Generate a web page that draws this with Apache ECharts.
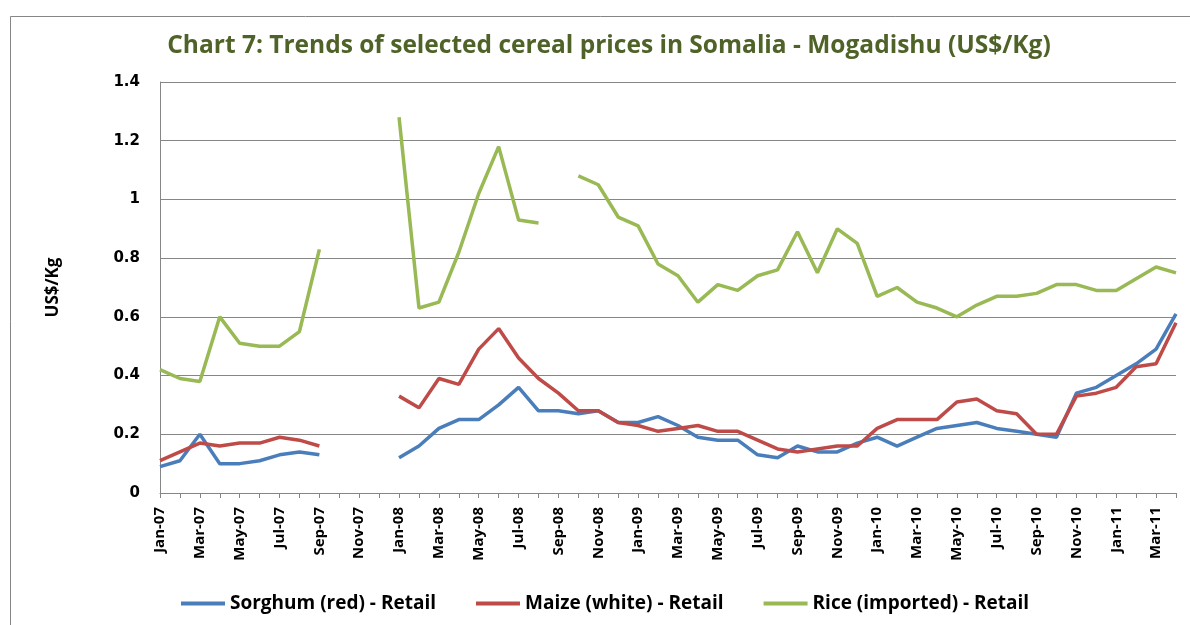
<!DOCTYPE html>
<html>
<head>
<meta charset="utf-8">
<script src="https://cdn.jsdelivr.net/npm/echarts@6/dist/echarts.min.js"></script>
<style>
  html, body { margin: 0; padding: 0; background: #fff; }
  #main { width: 1190px; height: 625px; }
</style>
</head>
<body>
<div id="main"></div>
<script>
var months = [
  'Jan-07','Feb-07','Mar-07','Apr-07','May-07','Jun-07','Jul-07','Aug-07','Sep-07','Oct-07','Nov-07','Dec-07',
  'Jan-08','Feb-08','Mar-08','Apr-08','May-08','Jun-08','Jul-08','Aug-08','Sep-08','Oct-08','Nov-08','Dec-08',
  'Jan-09','Feb-09','Mar-09','Apr-09','May-09','Jun-09','Jul-09','Aug-09','Sep-09','Oct-09','Nov-09','Dec-09',
  'Jan-10','Feb-10','Mar-10','Apr-10','May-10','Jun-10','Jul-10','Aug-10','Sep-10','Oct-10','Nov-10','Dec-10',
  'Jan-11','Feb-11','Mar-11','Apr-11'
];

// sorghum (red) - retail
var sorghum = [
  0.09, 0.11, 0.20, 0.10, 0.10, 0.11, 0.13, 0.14, 0.13, null, null, null,
  0.12, 0.16, 0.22, 0.25, 0.25, 0.30, 0.36, 0.28, 0.28, 0.27, 0.28, 0.24,
  0.24, 0.26, 0.23, 0.19, 0.18, 0.18, 0.13, 0.12, 0.16, 0.14, 0.14, 0.17,
  0.19, 0.16, 0.19, 0.22, 0.23, 0.24, 0.22, 0.21, 0.20, 0.19, 0.34, 0.36,
  0.40, 0.44, 0.49, 0.61
];

// maize (white) - retail
var maize = [
  0.11, 0.14, 0.17, 0.16, 0.17, 0.17, 0.19, 0.18, 0.16, null, null, null,
  0.33, 0.29, 0.39, 0.37, 0.49, 0.56, 0.46, 0.39, 0.34, 0.28, 0.28, 0.24,
  0.23, 0.21, 0.22, 0.23, 0.21, 0.21, 0.18, 0.15, 0.14, 0.15, 0.16, 0.16,
  0.22, 0.25, 0.25, 0.25, 0.31, 0.32, 0.28, 0.27, 0.20, 0.20, 0.33, 0.34,
  0.36, 0.43, 0.44, 0.58
];

// rice (imported) - retail
var rice = [
  0.42, 0.39, 0.38, 0.60, 0.51, 0.50, 0.50, 0.55, 0.83, null, null, null,
  1.28, 0.63, 0.65, 0.82, 1.02, 1.18, 0.93, 0.92, null, 1.08, 1.05, 0.94,
  0.91, 0.78, 0.74, 0.65, 0.71, 0.69, 0.74, 0.76, 0.89, 0.75, 0.90, 0.85,
  0.67, 0.70, 0.65, 0.63, 0.60, 0.64, 0.67, 0.67, 0.68, 0.71, 0.71, 0.69,
  0.69, 0.73, 0.77, 0.75
];

var chart = echarts.init(document.getElementById('main'));

function line(name, data, color) {
  return {
    name: name,
    type: 'line',
    data: data,
    symbol: 'none',
    connectNulls: false,
    lineStyle: { width: 3.5, color: color },
    itemStyle: { color: color }
  };
}

var option = {
  backgroundColor: '#fff',
  animation: false,
  title: {
    text: 'Chart 7: Trends of selected cereal prices in Somalia - Mogadishu (US$/Kg)',
    left: 604,
    top: 29,
    textAlign: 'center',
    textStyle: {
      fontFamily: 'Open Sans',
      fontWeight: 'bold',
      fontSize: 24.5,
      color: '#4F6228'
    }
  },
  graphic: [{
    type: 'rect',
    shape: { x: 10.5, y: 16.5, width: 1190, height: 620 },
    style: { fill: 'none', stroke: '#868686', lineWidth: 1 },
    silent: true
  }],
  legend: {
    bottom: 7,
    left: 176,
    itemGap: 40,
    itemWidth: 44,
    itemHeight: 4,
    icon: 'rect',
    textStyle: {
      fontFamily: 'Open Sans',
      fontWeight: 'bold',
      fontSize: 19,
      color: '#000'
    },
    data: ['Sorghum (red) - Retail', 'Maize (white) - Retail', 'Rice (imported) - Retail']
  },
  grid: {
    left: 160,
    right: 14,
    top: 82,
    bottom: 132,
    containLabel: false
  },
  xAxis: {
    type: 'category',
    data: months,
    boundaryGap: false,
    axisLine: { lineStyle: { color: '#868686', width: 1 } },
    axisTick: { show: true, interval: 0, length: 5, lineStyle: { color: '#868686' } },
    axisLabel: {
      interval: 1,
      rotate: 90,
      margin: 14,
      fontFamily: 'Open Sans',
      fontWeight: 'bold',
      fontSize: 15,
      color: '#000'
    }
  },
  yAxis: {
    type: 'value',
    min: 0,
    max: 1.4,
    interval: 0.2,
    name: 'US$/Kg',
    nameLocation: 'middle',
    nameGap: 98,
    nameRotate: 90,
    nameTextStyle: {
      fontFamily: 'Open Sans',
      fontWeight: 'bold',
      fontSize: 17,
      color: '#000'
    },
    axisLine: { show: true, lineStyle: { color: '#868686' } },
    axisTick: { show: false },
    splitLine: { lineStyle: { color: '#868686', width: 1 } },
    axisLabel: {
      margin: 20,
      fontFamily: 'DejaVu Sans',
      fontWeight: 'bold',
      fontSize: 15,
      color: '#000'
    }
  },
  series: [
    line('Sorghum (red) - Retail', sorghum, '#4A7EBB'),
    line('Maize (white) - Retail', maize, '#BE4B48'),
    line('Rice (imported) - Retail', rice, '#98B954')
  ]
};

chart.setOption(option);
</script>
</body>
</html>
